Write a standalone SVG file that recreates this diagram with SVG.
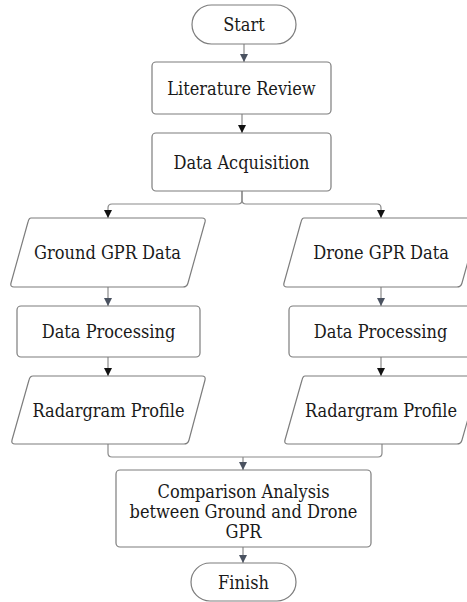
<svg xmlns="http://www.w3.org/2000/svg" width="467" height="602" viewBox="0 0 467 602">
  <style>
    .shape { fill: #ffffff; stroke: #7d7d7d; stroke-width: 1.2; stroke-linejoin: round; }
    .label { font-family: "DejaVu Serif", "Liberation Serif", serif; font-size: 18px; fill: #1a1a1a; text-anchor: middle; dominant-baseline: central; font-stretch: condensed; }
    .wire { fill: none; stroke: #8a8a8a; stroke-width: 1.2; }
    .wire.g { marker-end: url(#headGrey); }
    .wire.k { marker-end: url(#headBlack); }
  </style>
  <defs>
    <marker id="headGrey" markerUnits="userSpaceOnUse" markerWidth="8" markerHeight="9" refX="8" refY="4" orient="auto">
      <path d="M0,0 L8,4 L0,8 Z" fill="#4a5260"/>
    </marker>
    <marker id="headBlack" markerUnits="userSpaceOnUse" markerWidth="8" markerHeight="9" refX="8" refY="4" orient="auto">
      <path d="M0,0 L8,4 L0,8 Z" fill="#111111"/>
    </marker>
  </defs>
  <rect width="467" height="602" fill="#ffffff"/>

  <g id="connectors">
    <path class="wire g" d="M244 44 V62"/>
    <path class="wire k" d="M242 114 V133"/>
    <path class="wire k" d="M242 191 V200 Q242 204 238 204 H112 Q108 204 108 208 V218"/>
    <path class="wire k" d="M242 191 V200 Q242 204 246 204 H377 Q381 204 381 208 V218"/>
    <path class="wire g" d="M108 287 V306"/>
    <path class="wire g" d="M381 287 V306"/>
    <path class="wire k" d="M108 357 V376"/>
    <path class="wire k" d="M381 357 V376"/>
    <path class="wire" d="M108 444 V453 Q108 457 112 457 H378 Q382 457 382 453 V444"/>
    <path class="wire g" d="M243 457 V470"/>
    <path class="wire g" d="M243 547 V563"/>
  </g>

  <g id="start">
    <rect class="shape" x="192" y="5" width="104" height="39" rx="19.5"/>
    <text class="label" x="244" y="24.5">Start</text>
  </g>
  <g id="literature-review">
    <rect class="shape" x="152" y="62" width="179" height="52" rx="4"/>
    <text class="label" x="241.5" y="88">Literature Review</text>
  </g>
  <g id="data-acquisition">
    <rect class="shape" x="152" y="133" width="179" height="58" rx="4"/>
    <text class="label" x="241.5" y="162">Data Acquisition</text>
  </g>
  <g id="ground-gpr-data">
    <path class="shape" d="M31 218 H202 Q206 218 205 222 L188 283 Q187 287 183 287 H14 Q10 287 11 283 L28 222 Q29 218 31 218 Z"/>
    <text class="label" x="107.5" y="252.5">Ground GPR Data</text>
  </g>
  <g id="drone-gpr-data">
    <path class="shape" d="M304 218 H476 Q480 218 479 222 L462 283 Q461 287 457 287 H287 Q283 287 284 283 L301 222 Q302 218 304 218 Z"/>
    <text class="label" x="381" y="252.5">Drone GPR Data</text>
  </g>
  <g id="ground-processing">
    <rect class="shape" x="17" y="306" width="183" height="51" rx="4"/>
    <text class="label" x="108.5" y="331.5">Data Processing</text>
  </g>
  <g id="drone-processing">
    <rect class="shape" x="289" y="306" width="183" height="51" rx="4"/>
    <text class="label" x="380.5" y="331.5">Data Processing</text>
  </g>
  <g id="ground-radargram">
    <path class="shape" d="M33 376 H202 Q206 376 205 380 L189 440 Q188 444 184 444 H15 Q11 444 12 440 L29 380 Q30 376 33 376 Z"/>
    <text class="label" x="108.5" y="410">Radargram Profile</text>
  </g>
  <g id="drone-radargram">
    <path class="shape" d="M305 376 H476 Q480 376 479 380 L462 440 Q461 444 457 444 H288 Q284 444 285 440 L302 380 Q303 376 305 376 Z"/>
    <text class="label" x="381" y="410">Radargram Profile</text>
  </g>
  <g id="comparison-analysis">
    <rect class="shape" x="116" y="470" width="255" height="77" rx="4"/>
    <text class="label" x="243.5" y="491">Comparison Analysis</text>
    <text class="label" x="243.5" y="511">between Ground and Drone</text>
    <text class="label" x="243.5" y="531">GPR</text>
  </g>
  <g id="finish">
    <rect class="shape" x="191" y="563" width="105" height="38" rx="19"/>
    <text class="label" x="243.5" y="582">Finish</text>
  </g>
</svg>
